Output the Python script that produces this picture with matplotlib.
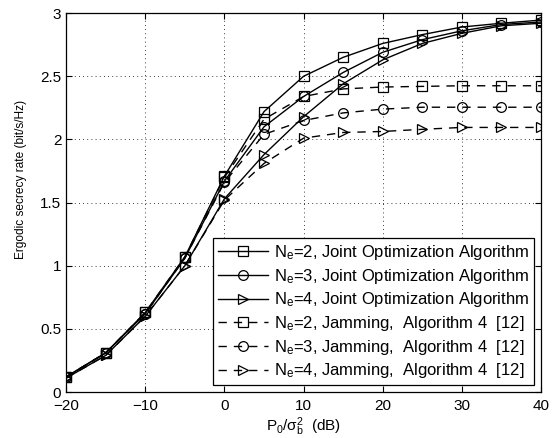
import matplotlib
matplotlib.use("Agg")
import matplotlib.pyplot as plt

plt.rcParams['font.family'] = ['Liberation Sans', 'DejaVu Sans']
plt.rcParams['mathtext.fontset'] = 'custom'
plt.rcParams['mathtext.rm'] = 'Liberation Sans'
plt.rcParams['mathtext.it'] = 'Liberation Sans'
plt.rcParams['mathtext.default'] = 'regular'

snr_db = [-20, -15, -10, -5, 0, 5, 10, 15, 20, 25, 30, 35, 40]

# joint optimization algorithm
joint_ne2 = [0.12, 0.31, 0.63, 1.07, 1.71, 2.22, 2.50, 2.65, 2.76, 2.83, 2.89, 2.92, 2.945]
joint_ne3 = [0.12, 0.31, 0.62, 1.06, 1.67, 2.10, 2.34, 2.53, 2.69, 2.79, 2.86, 2.91, 2.93]
joint_ne4 = [0.11, 0.29, 0.60, 1.00, 1.53, 1.88, 2.18, 2.44, 2.63, 2.76, 2.84, 2.90, 2.92]

# jamming, algorithm 4 [12]
jam_ne2 = [0.12, 0.31, 0.63, 1.07, 1.70, 2.16, 2.34, 2.40, 2.415, 2.42, 2.425, 2.425, 2.425]
jam_ne3 = [0.12, 0.31, 0.62, 1.06, 1.66, 2.04, 2.15, 2.21, 2.24, 2.255, 2.255, 2.255, 2.255]
jam_ne4 = [0.11, 0.29, 0.60, 1.00, 1.52, 1.81, 2.01, 2.055, 2.063, 2.08, 2.095, 2.095, 2.095]

labels = [r'N$_e$=2, Joint Optimization Algorithm',
          r'N$_e$=3, Joint Optimization Algorithm',
          r'N$_e$=4, Joint Optimization Algorithm',
          r'N$_e$=2, Jamming,  Algorithm 4  [12]',
          r'N$_e$=3, Jamming,  Algorithm 4  [12]',
          r'N$_e$=4, Jamming,  Algorithm 4  [12]']

series = [joint_ne2, joint_ne3, joint_ne4, jam_ne2, jam_ne3, jam_ne4]
markers = ['s', 'o', '>', 's', 'o', '>']
styles = ['-', '-', '-', (0, (6, 5)), (0, (6, 5)), (0, (6, 5))]

fig = plt.figure(figsize=(5.56, 4.38), dpi=100)
ax = fig.add_axes([0.119, 0.105, 0.854, 0.865])

for vals, mk, ls, lab in zip(series, markers, styles, labels):
    ax.plot(snr_db, vals, color='black', linestyle=ls, linewidth=1.0,
            marker=mk, markersize=7, markerfacecolor='none',
            markeredgecolor='black', markeredgewidth=0.9, label=lab)

ax.set_xlim(-20, 40)
ax.set_ylim(0, 3)
ax.set_xticks(range(-20, 41, 10))
ax.set_yticks([0, 0.5, 1, 1.5, 2, 2.5, 3])
ax.set_yticklabels(['0', '0.5', '1', '1.5', '2', '2.5', '3'])
ax.set_xticklabels(['\u221220', '\u221210', '0', '10', '20', '30', '40'])
ax.tick_params(direction='in', labelsize=11, length=4, top=True, right=True)
ax.tick_params(axis='x', pad=5)
ax.grid(True, linestyle=(0, (1, 4)), color='black', linewidth=0.6)
for s in ax.spines.values():
    s.set_linewidth(0.9)

ax.set_xlabel(r'P$_0$/$\sigma_b^2$  (dB)', fontsize=11, labelpad=2)
ax.set_ylabel('Ergodic secrecy rate (bit/s/Hz)', fontsize=8.6)
ax.yaxis.set_label_coords(-0.082, 0.56)

leg = ax.legend(loc='lower right', fontsize=12, frameon=True, fancybox=False,
                edgecolor='black', framealpha=1, handlelength=3.0,
                borderaxespad=0.4, labelspacing=0.28, handletextpad=0.4,
                borderpad=0.3)
leg.get_frame().set_linewidth(0.9)

fig.savefig('out.png', dpi=100)
